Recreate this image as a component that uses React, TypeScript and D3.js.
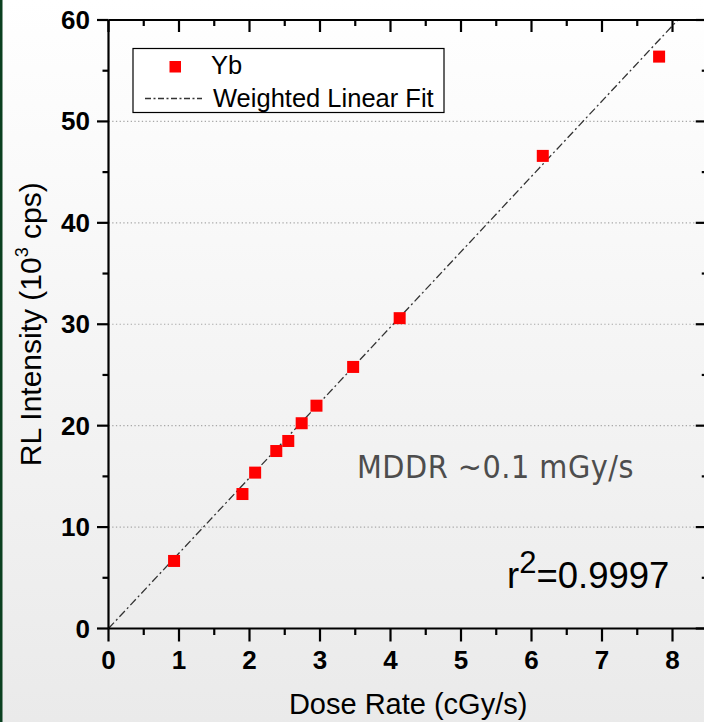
import React from 'react';
import * as d3 from 'd3';

const doseRate = [0.93, 1.9, 2.08, 2.38, 2.55, 2.74, 2.95, 3.47, 4.13, 6.16, 7.81];
const intensity = [6.66, 13.26, 15.37, 17.5, 18.49, 20.24, 21.97, 25.79, 30.6, 46.6, 56.39];
const fitSlope = 7.43;
const fitIntercept = 0;
const xTicks = [0, 1, 2, 3, 4, 5, 6, 7, 8];
const xMinorTicks = [0.5, 1.5, 2.5, 3.5, 4.5, 5.5, 6.5, 7.5, 8.5];
const yTicks = [0, 10, 20, 30, 40, 50, 60];
const yMinorTicks = [5, 15, 25, 35, 45, 55];
const gridValues = [10, 20, 30, 40, 50];

const W = 704;
const H = 722;
const L = 108.5;
const T = 20;
const R = 707.75;
const B = 628.5;

export default function App() {
  const x = d3.scaleLinear().domain([0, 8.5]).range([L, R]);
  const y = d3.scaleLinear().domain([0, 60]).range([B, T]);
  const fitEnd = (60 - fitIntercept) / fitSlope;
  const line = d3
    .line<number>()
    .x((d) => x(d))
    .y((d) => y(fitIntercept + fitSlope * d));
  const font = "'Liberation Sans', Arial, Helvetica, sans-serif";
  return (
    <svg
      width={W}
      height={H}
      style={{ position: 'absolute', left: 0, top: 0, display: 'block' }}
      fontFamily={font}
    >
      <defs>
        <linearGradient id="bg" x1="0" y1="0" x2="0" y2="1">
          <stop offset="0" stopColor="#ffffff" />
          <stop offset="1" stopColor="#eaeaea" />
        </linearGradient>
        <clipPath id="plot">
          <rect x={L} y={T} width={R - L} height={B - T} />
        </clipPath>
      </defs>
      <rect x={0} y={0} width={W} height={H} fill="url(#bg)" />
      <rect x={0} y={0} width={2.5} height={H} fill="#0b4020" />

      {gridValues.map((v) => (
        <line
          key={'g' + v}
          x1={L}
          x2={R}
          y1={y(v)}
          y2={y(v)}
          stroke="#a8a8a8"
          strokeWidth={1.2}
          strokeDasharray="1.3,2.4"
        />
      ))}

      <path
        d={line([0, fitEnd]) || ''}
        fill="none"
        stroke="#333"
        strokeWidth={1.3}
        strokeDasharray="8,3,2,3"
        clipPath="url(#plot)"
      />

      {doseRate.map((d, i) => (
        <rect
          key={'p' + i}
          x={x(d) - 6}
          y={y(intensity[i]) - 6}
          width={12}
          height={12}
          fill="#ff0000"
        />
      ))}

      <g stroke="#000" strokeWidth={2.2} fill="none">
        <line x1={L} x2={R} y1={B} y2={B} />
        <line x1={L} x2={R} y1={T} y2={T} />
        <line x1={L} x2={L} y1={T} y2={B} />
        <line x1={R} x2={R} y1={T} y2={B} />
        {xTicks.map((v) => (
          <g key={'xt' + v}>
            <line x1={x(v)} x2={x(v)} y1={B} y2={B + 13} />
            <line x1={x(v)} x2={x(v)} y1={T} y2={T + 12} />
          </g>
        ))}
        {xMinorTicks.map((v) => (
          <g key={'xm' + v}>
            <line x1={x(v)} x2={x(v)} y1={B} y2={B + 6.5} />
            <line x1={x(v)} x2={x(v)} y1={T} y2={T + 6} />
          </g>
        ))}
        {yTicks.map((v) => (
          <g key={'yt' + v}>
            <line x1={L - 11.5} x2={L} y1={y(v)} y2={y(v)} />
            <line x1={R - 12} x2={R} y1={y(v)} y2={y(v)} />
          </g>
        ))}
        {yMinorTicks.map((v) => (
          <g key={'ym' + v}>
            <line x1={L - 6} x2={L} y1={y(v)} y2={y(v)} />
            <line x1={R - 6} x2={R} y1={y(v)} y2={y(v)} />
          </g>
        ))}
      </g>

      {xTicks.map((v) => (
        <text
          key={'xl' + v}
          x={x(v)}
          y={669}
          textAnchor="middle"
          fontSize={26}
          fontWeight="bold"
        >
          {v}
        </text>
      ))}
      {yTicks.map((v) => (
        <text
          key={'yl' + v}
          x={90}
          y={y(v) + 9}
          textAnchor="end"
          fontSize={26}
          fontWeight="bold"
        >
          {v}
        </text>
      ))}

      <text x={(L + R) / 2} y={714} textAnchor="middle" fontSize={29}>
        Dose Rate (cGy/s)
      </text>
      <text
        transform={`translate(41,${(T + B) / 2}) rotate(-90)`}
        textAnchor="middle"
        fontSize={30}
      >
        RL Intensity (10
        <tspan fontSize={18} dy={-13}>
          3
        </tspan>
        <tspan dy={13}> cps)</tspan>
      </text>

      <rect x={133} y={48.5} width={311} height={64} fill="#fff" stroke="#000" strokeWidth={1.2} />
      <rect x={169.5} y={61} width={11.5} height={11.5} fill="#ff0000" />
      <text x={211} y={74} fontSize={25.5}>
        Yb
      </text>
      <line x1={145} x2={202} y1={98.5} y2={98.5} stroke="#333" strokeWidth={1.3} strokeDasharray="6,2.5,2,2.5" />
      <text x={213} y={106.5} fontSize={25.5}>
        Weighted Linear Fit
      </text>

      <text
        x={357}
        y={478}
        fontSize={32}
        letterSpacing={0.5}
        fill="#4d4d4d"
        fontFamily="'DejaVu Sans Condensed', 'DejaVu Sans', sans-serif"
      >
        MDDR ~0.1 mGy/s
      </text>

      <text x={507} y={588} fontSize={36.5}>
        r
        <tspan fontSize={31} dy={-15}>
          2
        </tspan>
        <tspan dy={15}>=0.9997</tspan>
      </text>
    </svg>
  );
}
